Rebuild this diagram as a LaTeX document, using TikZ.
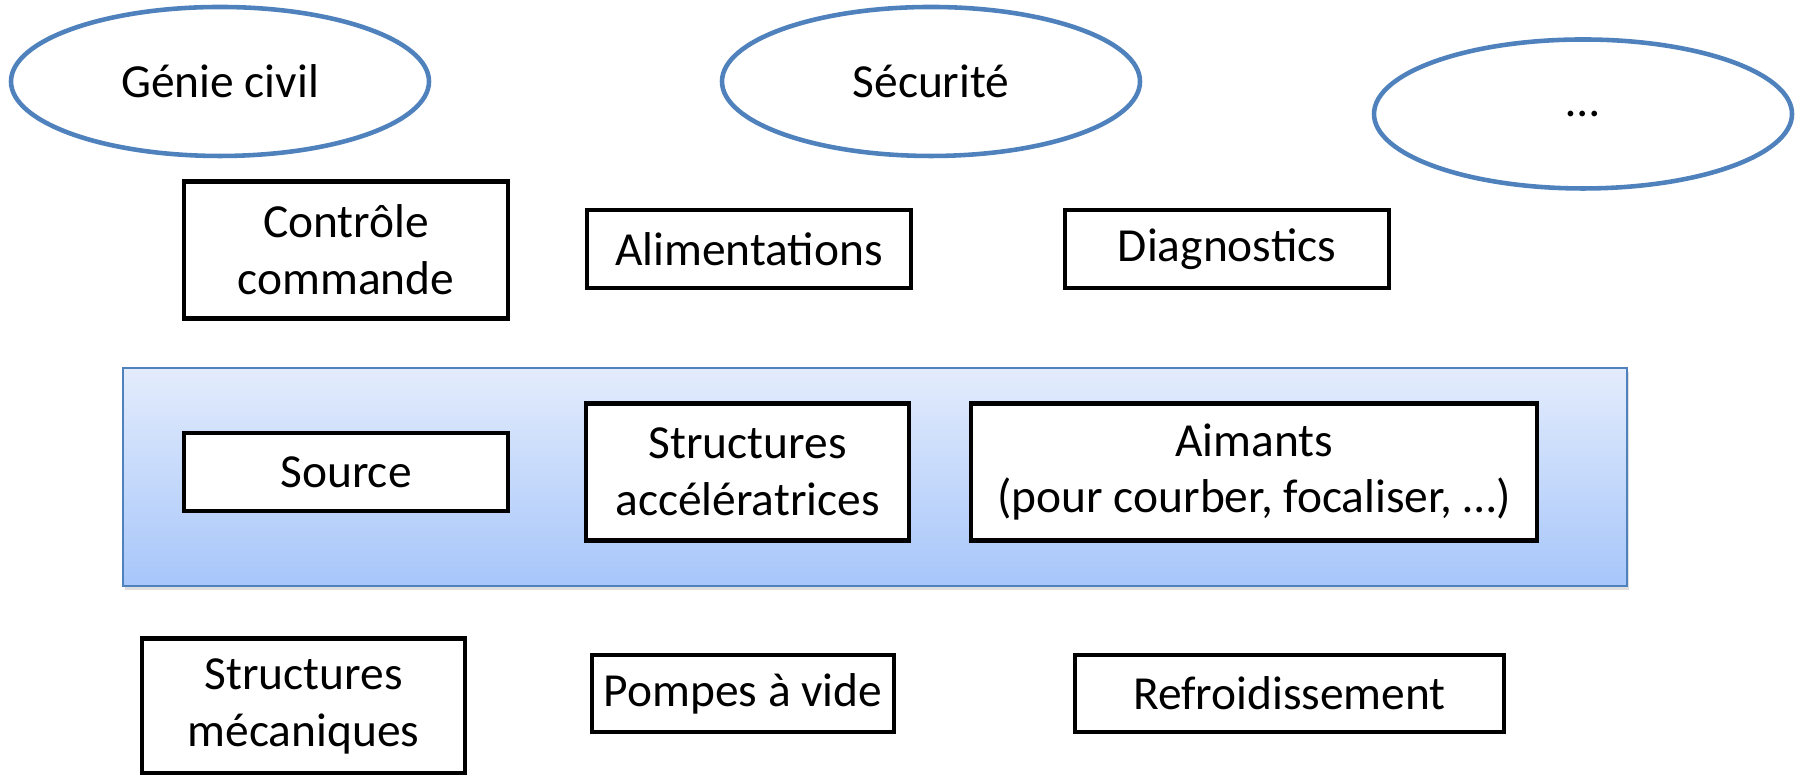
\documentclass[tikz,border=0pt]{standalone}
\usepackage{fontspec}
\setmainfont{Carlito}
\usepackage{tikz}
\usetikzlibrary{shapes.geometric,shadows}
\definecolor{cadreBleu}{HTML}{4F81BD}
\definecolor{bandeHaut}{HTML}{E3ECFC}
\definecolor{bandeBas}{HTML}{A7C6FA}
\tikzset{
  txt/.style={font=\fontsize{13.5}{16.2}\selectfont},
}
\begin{document}
\begin{tikzpicture}[
  domaine/.style={ellipse, draw=cadreBleu, line width=1.3pt, inner sep=0pt,
                  minimum width=4.18cm, minimum height=1.49cm},
  bloc/.style={draw, line width=1.2pt, fill=white, align=center, inner sep=0pt,
               minimum width=3.24cm, minimum height=0.78cm},
  haut/.style={minimum height=1.37cm},
  bande/.style={draw=cadreBleu, line width=0.5pt, top color=bandeHaut, bottom color=bandeBas,
                minimum width=15.04cm, minimum height=2.18cm, inner sep=0pt,
                drop shadow={opacity=0.25, shadow xshift=0.02cm, shadow yshift=-0.04cm}},
  txt]
  \useasboundingbox (0,0) rectangle (18.02,7.75);
  \node[domaine] (genie)    at (2.20,6.935) {Génie civil};
  \node[domaine] (securite) at (9.31,6.935) {Sécurité};
  \node[domaine] (autres)   at (15.83,6.61) {…};
  \node[bloc, haut] (controle) at (3.46,5.25) {Contrôle\\commande};
  \node[bloc] (alim)  at (7.49,5.26)  {Alimentations};
  \node[bloc] (diag)  at (12.27,5.26) {Diagnostics};
  \node[bande] (faisceau) at (8.75,2.98) {};
  \node[bloc] (source) at (3.46,3.03) {Source};
  \node[bloc, haut, minimum width=3.23cm] (accel) at (7.475,3.03) {Structures\\accélératrices};
  \node[bloc, haut, minimum width=5.66cm] (aimants) at (12.54,3.03) {Aimants\\(pour courber, focaliser, …)};
  \node[bloc, haut, minimum width=3.23cm, minimum height=1.35cm] (meca) at (3.035,0.69) {Structures\\mécaniques};
  \node[bloc, minimum width=3.02cm, minimum height=0.77cm] (pompes) at (7.43,0.815) {Pompes à vide};
  \node[bloc, minimum width=4.29cm, minimum height=0.77cm] (froid) at (12.895,0.815) {Refroidissement};
\end{tikzpicture}
\end{document}
